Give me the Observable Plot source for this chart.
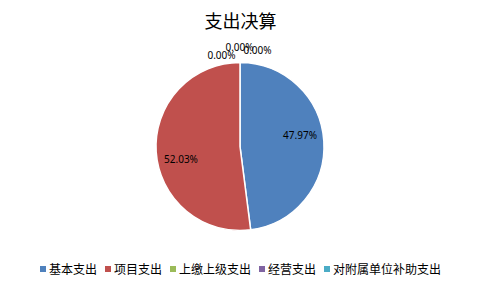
<!DOCTYPE html>
<html><head><meta charset="utf-8">
<script src="https://cdn.jsdelivr.net/npm/d3@7"></script>
<script src="https://cdn.jsdelivr.net/npm/@observablehq/plot@0.6"></script>
<style>
body{margin:0;background:#fff}
#wrap{position:relative;width:481px;height:289px;font-family:"Noto Sans CJK SC","Noto Sans",sans-serif;background:#fff;overflow:hidden}
#chart{position:absolute;left:0;top:0}
#title{position:absolute;top:8px;left:0;width:481px;text-align:center;font-size:18px;line-height:24px;color:#000}
#legend{position:absolute;top:260px;left:0;width:481px;display:flex;justify-content:center;font-size:12px;line-height:18px;color:#000}
.item{display:flex;align-items:center;margin:0 4px}
.sw{width:6px;height:6px;margin-right:3px}
</style></head>
<body>
<div id="wrap">
  <div id="chart"></div>
  <div id="title">支出决算</div>
  <div id="legend"></div>
</div>
<script>
const categories = ["基本支出", "项目支出", "上缴上级支出", "经营支出", "对附属单位补助支出"];
const values = [47.97, 52.03, 0, 0, 0];
const colors = ["#4F81BD", "#C0504D", "#9BBB59", "#8064A2", "#4BACC6"];
const title = "支出决算";

const data = categories.map((c, i) => ({category: c, value: values[i], color: colors[i]}));
const arcs = d3.pie().sort(null).value(d => d.value)(data);
const total = d3.sum(values);
const pct = v => (v / total * 100).toFixed(2) + "%";

// label anchor points derived from slice angles
const lab = arcs.map((a, i) => {
  const nonzero = a.data.value > 0;
  const mid = (a.startAngle + a.endAngle) / 2;
  const rr = nonzero ? 0.71 : 1.0;
  return {i, text: pct(a.data.value), x: Math.sin(mid) * rr, y: Math.cos(mid) * rr};
});

const pieMark = (index, scales, values_, dims) => {
  const sx = scales.x, sy = scales.y;
  const cx = sx(0), cy = sy(0);
  const r = Math.abs(sx(1) - sx(0));
  const g = d3.create("svg:g").attr("transform", `translate(${cx},${cy})`);
  const arc = d3.arc().innerRadius(0).outerRadius(r);
  g.selectAll("path").data(arcs.filter(a => a.data.value > 0)).join("path")
    .attr("d", arc).attr("fill", d => d.data.color)
    .attr("stroke", "#fff").attr("stroke-width", 1.5).attr("stroke-linejoin", "round");
  return g.node();
};

const textOpts = {x: "x", y: "y", text: "text", fontSize: 10, fill: "#000",
  fontFamily: "'Noto Sans', 'Noto Sans CJK SC', sans-serif"};
const offsets = [[0, -7], [0, 9], [-19, -7.5], [-1, -15], [17, -12.5]];

const plot = Plot.plot({
  width: 481, height: 289,
  margin: 0,
  x: {domain: [-1, 1], range: [156, 324], axis: null},
  y: {domain: [-1, 1], range: [230.5, 62.5], axis: null},
  style: {background: "transparent", overflow: "visible"},
  marks: [
    pieMark,
    ...lab.map((l, k) => Plot.text([l], {...textOpts, dx: offsets[k][0], dy: offsets[k][1]}))
  ]
});
document.getElementById("chart").appendChild(plot);

const legend = document.getElementById("legend");
data.forEach(d => {
  const it = document.createElement("div"); it.className = "item";
  const sw = document.createElement("div"); sw.className = "sw"; sw.style.background = d.color;
  const tx = document.createElement("span"); tx.textContent = d.category;
  it.appendChild(sw); it.appendChild(tx); legend.appendChild(it);
});
document.getElementById("title").textContent = title;
</script>
</body></html>
